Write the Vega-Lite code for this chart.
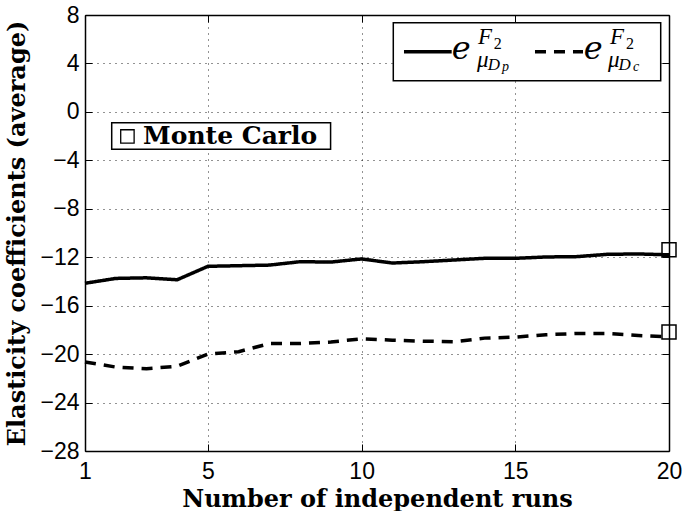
{
  "$schema": "https://vega.github.io/schema/vega-lite/v6.json",
  "width": 584,
  "height": 436,
  "autosize": {"type": "none"},
  "padding": {"left": 85, "top": 15, "right": 16, "bottom": 60},
  "background": "white",
  "config": {
    "view": {"stroke": null},
    "axis": {
      "domainColor": "#000",
      "domainWidth": 1.5,
      "tickColor": "#000",
      "tickWidth": 1,
      "tickSize": -7,
      "labelFont": "Liberation Sans",
      "labelFontSize": 23,
      "labelColor": "#000",
      "labelFlush": false,
      "labelOverlap": false,
      "titleFont": "DejaVu Serif",
      "titleFontWeight": "bold",
      "titleFontSize": 24,
      "titleColor": "#000",
      "gridColor": "#000",
      "gridDash": [1, 5],
      "gridOpacity": 0.85,
      "gridWidth": 1
    },
    "axisX": {"labelPadding": 16},
    "axisY": {"labelPadding": 13}
  },
  "datasets": {
    "lines": [
      {"run": 1, "value": -14.15, "series": "p"},
      {"run": 2, "value": -13.75, "series": "p"},
      {"run": 3, "value": -13.7, "series": "p"},
      {"run": 4, "value": -13.86, "series": "p"},
      {"run": 5, "value": -12.75, "series": "p"},
      {"run": 6, "value": -12.7, "series": "p"},
      {"run": 7, "value": -12.65, "series": "p"},
      {"run": 8, "value": -12.37, "series": "p"},
      {"run": 9, "value": -12.4, "series": "p"},
      {"run": 10, "value": -12.14, "series": "p"},
      {"run": 11, "value": -12.48, "series": "p"},
      {"run": 12, "value": -12.37, "series": "p"},
      {"run": 13, "value": -12.23, "series": "p"},
      {"run": 14, "value": -12.09, "series": "p"},
      {"run": 15, "value": -12.09, "series": "p"},
      {"run": 16, "value": -11.98, "series": "p"},
      {"run": 17, "value": -11.95, "series": "p"},
      {"run": 18, "value": -11.76, "series": "p"},
      {"run": 19, "value": -11.73, "series": "p"},
      {"run": 20, "value": -11.8, "series": "p"},
      {"run": 1, "value": -20.65, "series": "c"},
      {"run": 2, "value": -21.07, "series": "c"},
      {"run": 3, "value": -21.2, "series": "c"},
      {"run": 4, "value": -21.0, "series": "c"},
      {"run": 5, "value": -20.0, "series": "c"},
      {"run": 6, "value": -19.8, "series": "c"},
      {"run": 7, "value": -19.13, "series": "c"},
      {"run": 8, "value": -19.13, "series": "c"},
      {"run": 9, "value": -19.0, "series": "c"},
      {"run": 10, "value": -18.74, "series": "c"},
      {"run": 11, "value": -18.85, "series": "c"},
      {"run": 12, "value": -18.93, "series": "c"},
      {"run": 13, "value": -18.98, "series": "c"},
      {"run": 14, "value": -18.68, "series": "c"},
      {"run": 15, "value": -18.6, "series": "c"},
      {"run": 16, "value": -18.4, "series": "c"},
      {"run": 17, "value": -18.3, "series": "c"},
      {"run": 18, "value": -18.3, "series": "c"},
      {"run": 19, "value": -18.46, "series": "c"},
      {"run": 20, "value": -18.57, "series": "c"}
    ],
    "mc": [
      {"run": 20, "value": -11.38, "series": "p"},
      {"run": 20, "value": -18.18, "series": "c"}
    ],
    "one": [{}]
  },
  "layer": [
    {
      "data": {"name": "lines"},
      "mark": {"type": "line", "color": "#000", "strokeWidth": 3.5},
      "encoding": {
        "x": {
          "field": "run", "type": "quantitative",
          "scale": {"domain": [1, 20], "nice": false, "zero": false},
          "axis": {"orient": "bottom", "values": [1, 5, 10, 15, 20], "grid": true, "title": "Number of independent runs", "titlePadding": 4}
        },
        "y": {
          "field": "value", "type": "quantitative",
          "scale": {"domain": [-28, 8], "nice": false, "zero": false},
          "axis": {"orient": "left", "values": [-28, -24, -20, -16, -12, -8, -4, 0, 4, 8], "grid": true, "title": "Elasticity coefficients (average)", "titlePadding": 10}
        },
        "strokeDash": {
          "field": "series", "type": "nominal",
          "scale": {"domain": ["p", "c"], "range": [[1, 0], [11, 8]]},
          "legend": null
        }
      }
    },
    {
      "data": {"name": "mc"},
      "mark": {"type": "point", "shape": "square", "filled": false, "size": 196, "stroke": "#000", "strokeWidth": 1.5, "opacity": 1},
      "encoding": {
        "x": {"field": "run", "type": "quantitative", "axis": {"orient": "top", "values": [1, 5, 10, 15, 20], "labels": false, "grid": false, "title": null}},
        "y": {"field": "value", "type": "quantitative", "axis": {"orient": "right", "values": [-28, -24, -20, -16, -12, -8, -4, 0, 4, 8], "labels": false, "grid": false, "title": null}}
      }
    },
    {
      "data": {"name": "one"},
      "mark": {"type": "rect", "fill": "white", "stroke": "#000", "strokeWidth": 1.5},
      "encoding": {
        "x": {"datum": 1.869, "type": "quantitative", "axis": null},
        "x2": {"datum": 8.99},
        "y": {"datum": -0.89, "type": "quantitative", "axis": null},
        "y2": {"datum": -3.09}
      }
    },
    {
      "data": {"name": "one"},
      "mark": {"type": "point", "shape": "square", "filled": false, "size": 180, "stroke": "#000", "strokeWidth": 1.3, "opacity": 1},
      "encoding": {
        "x": {"datum": 2.38, "type": "quantitative", "axis": null},
        "y": {"datum": -2.03, "type": "quantitative", "axis": null}
      }
    },
    {
      "data": {"name": "one"},
      "mark": {"type": "text", "text": "Monte Carlo", "font": "DejaVu Serif", "fontWeight": "bold", "fontSize": 25, "align": "left", "baseline": "middle", "color": "#000"},
      "encoding": {
        "x": {"datum": 2.89, "type": "quantitative", "axis": null},
        "y": {"datum": -2.0, "type": "quantitative", "axis": null}
      }
    },
    {
      "data": {"name": "one"},
      "mark": {"type": "rect", "fill": "white", "stroke": "#000", "strokeWidth": 1.5},
      "encoding": {
        "x": {"datum": 11.03, "type": "quantitative", "axis": null},
        "x2": {"datum": 19.73},
        "y": {"datum": 7.36, "type": "quantitative", "axis": null},
        "y2": {"datum": 2.57}
      }
    },
    {
      "data": {"name": "one"},
      "mark": {"type": "rule", "color": "#000", "strokeWidth": 3.5},
      "encoding": {
        "x": {"datum": 11.378, "type": "quantitative", "axis": null},
        "x2": {"datum": 12.93},
        "y": {"datum": 4.97, "type": "quantitative", "axis": null}
      }
    },
    {
      "data": {"name": "one"},
      "mark": {"type": "rule", "color": "#000", "strokeWidth": 3.5, "strokeDash": [11, 8]},
      "encoding": {
        "x": {"datum": 15.64, "type": "quantitative", "axis": null},
        "x2": {"datum": 17.202},
        "y": {"datum": 4.97, "type": "quantitative", "axis": null}
      }
    },
    {
      "data": {"name": "one"},
      "mark": {"type": "text", "text": "e", "font": "DejaVu Serif", "fontStyle": "italic", "fontSize": 32, "align": "left", "baseline": "alphabetic", "color": "#000"},
      "encoding": {"x": {"datum": 12.93, "type": "quantitative", "axis": null}, "y": {"datum": 4.4, "type": "quantitative", "axis": null}}
    },
    {
      "data": {"name": "one"},
      "mark": {"type": "text", "text": "F", "font": "Liberation Serif", "fontStyle": "italic", "fontSize": 23, "align": "left", "baseline": "alphabetic", "color": "#000"},
      "encoding": {"x": {"datum": 13.786, "type": "quantitative", "axis": null}, "y": {"datum": 5.63, "type": "quantitative", "axis": null}}
    },
    {
      "data": {"name": "one"},
      "mark": {"type": "text", "text": "2", "font": "Liberation Serif", "fontSize": 16, "align": "left", "baseline": "alphabetic", "color": "#000"},
      "encoding": {"x": {"datum": 14.3, "type": "quantitative", "axis": null}, "y": {"datum": 5.2, "type": "quantitative", "axis": null}}
    },
    {
      "data": {"name": "one"},
      "mark": {"type": "text", "text": "μ", "font": "Liberation Serif", "fontStyle": "italic", "fontSize": 23, "align": "left", "baseline": "alphabetic", "color": "#000"},
      "encoding": {"x": {"datum": 13.754, "type": "quantitative", "axis": null}, "y": {"datum": 3.706, "type": "quantitative", "axis": null}}
    },
    {
      "data": {"name": "one"},
      "mark": {"type": "text", "text": "D", "font": "Liberation Serif", "fontStyle": "italic", "fontSize": 17, "align": "left", "baseline": "alphabetic", "color": "#000"},
      "encoding": {"x": {"datum": 14.1, "type": "quantitative", "axis": null}, "y": {"datum": 3.5, "type": "quantitative", "axis": null}}
    },
    {
      "data": {"name": "one"},
      "mark": {"type": "text", "text": "p", "font": "Liberation Serif", "fontStyle": "italic", "fontSize": 14, "align": "left", "baseline": "alphabetic", "color": "#000"},
      "encoding": {"x": {"datum": 14.57, "type": "quantitative", "axis": null}, "y": {"datum": 3.35, "type": "quantitative", "axis": null}}
    },
    {
      "data": {"name": "one"},
      "mark": {"type": "text", "text": "e", "font": "DejaVu Serif", "fontStyle": "italic", "fontSize": 32, "align": "left", "baseline": "alphabetic", "color": "#000"},
      "encoding": {"x": {"datum": 17.23, "type": "quantitative", "axis": null}, "y": {"datum": 4.4, "type": "quantitative", "axis": null}}
    },
    {
      "data": {"name": "one"},
      "mark": {"type": "text", "text": "F", "font": "Liberation Serif", "fontStyle": "italic", "fontSize": 23, "align": "left", "baseline": "alphabetic", "color": "#000"},
      "encoding": {"x": {"datum": 18.08, "type": "quantitative", "axis": null}, "y": {"datum": 5.63, "type": "quantitative", "axis": null}}
    },
    {
      "data": {"name": "one"},
      "mark": {"type": "text", "text": "2", "font": "Liberation Serif", "fontSize": 16, "align": "left", "baseline": "alphabetic", "color": "#000"},
      "encoding": {"x": {"datum": 18.6, "type": "quantitative", "axis": null}, "y": {"datum": 5.2, "type": "quantitative", "axis": null}}
    },
    {
      "data": {"name": "one"},
      "mark": {"type": "text", "text": "μ", "font": "Liberation Serif", "fontStyle": "italic", "fontSize": 23, "align": "left", "baseline": "alphabetic", "color": "#000"},
      "encoding": {"x": {"datum": 18.015, "type": "quantitative", "axis": null}, "y": {"datum": 3.706, "type": "quantitative", "axis": null}}
    },
    {
      "data": {"name": "one"},
      "mark": {"type": "text", "text": "D", "font": "Liberation Serif", "fontStyle": "italic", "fontSize": 17, "align": "left", "baseline": "alphabetic", "color": "#000"},
      "encoding": {"x": {"datum": 18.36, "type": "quantitative", "axis": null}, "y": {"datum": 3.5, "type": "quantitative", "axis": null}}
    },
    {
      "data": {"name": "one"},
      "mark": {"type": "text", "text": "c", "font": "Liberation Serif", "fontStyle": "italic", "fontSize": 14, "align": "left", "baseline": "alphabetic", "color": "#000"},
      "encoding": {"x": {"datum": 18.83, "type": "quantitative", "axis": null}, "y": {"datum": 3.35, "type": "quantitative", "axis": null}}
    }
  ],
  "resolve": {"axis": {"x": "independent", "y": "independent"}}
}
